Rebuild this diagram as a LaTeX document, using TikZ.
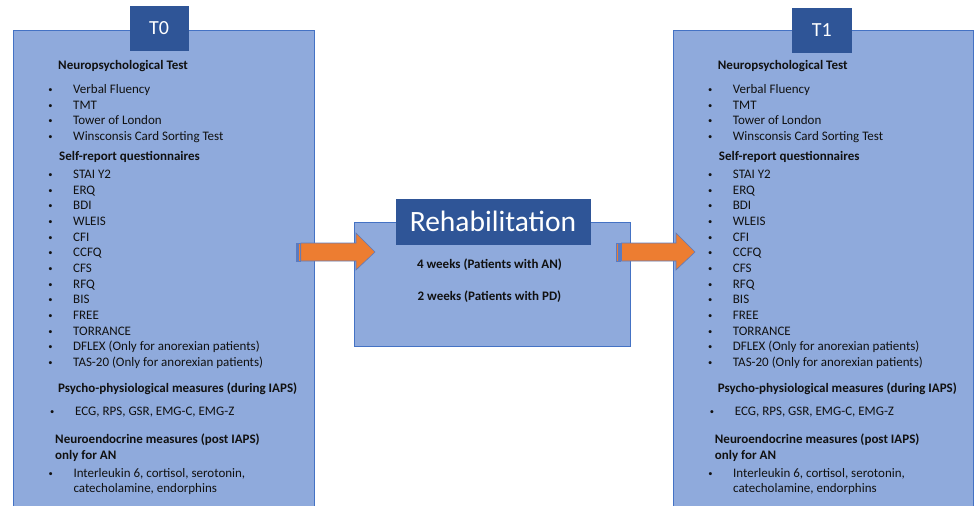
\documentclass[tikz,border=0pt]{standalone}
\usepackage{fontspec}
\setmainfont{Carlito}
\definecolor{boxfill}{HTML}{8FAADC}
\definecolor{boxline}{HTML}{4472C4}
\definecolor{labfill}{HTML}{2F5597}
\definecolor{arrfill}{HTML}{ED7D31}
\definecolor{arrline}{HTML}{5B7BC0}
\definecolor{txt}{HTML}{111111}
\newcommand\mycolumn[1]{%
  \node[head] (#1-h1) at (58,69.3) {Neuropsychological Test};
  \foreach \yy/\tt [count=\i] in {93.3/{Verbal Fluency},109/{TMT},124.6/{Tower of London},140.3/{Winsconsis Card Sorting Test}}{
    \node[bul] (#1-a\i) at (50.5,\yy-1) {•};
    \node[item] (#1-b\i) at (73,\yy) {\tt};
  }
  \node[head] (#1-h2) at (59,160) {Self-report questionnaires};
  \foreach \yy/\tt [count=\i] in {178.3/{STAI Y2},194/{ERQ},209.7/{BDI},225.3/{WLEIS},241/{CFI},256.7/{CCFQ},272.3/{CFS},288/{RFQ},303.7/{BIS},319.3/{FREE},335/{TORRANCE},350.6/{DFLEX (Only for anorexian patients)},366.2/{TAS-20 (Only for anorexian patients)}}{
    \node[bul] (#1-c\i) at (50.5,\yy-1) {•};
    \node[item] (#1-d\i) at (73,\yy) {\tt};
  }
  \node[head] (#1-h3) at (58,392.3) {Psycho-physiological measures (during IAPS)};
  \node[bul] (#1-e1) at (52.3,414) {•};
  \node[item] (#1-f1) at (75,415) {ECG, RPS, GSR, EMG-C, EMG-Z};
  \node[head] (#1-h4) at (55,443.3) {Neuroendocrine measures (post IAPS)};
  \node[head] (#1-h5) at (55,459.3) {only for AN};
  \node[bul] (#1-g1) at (50.7,476.3) {•};
  \node[item] (#1-g2) at (73.3,477.3) {Interleukin 6, cortisol, serotonin,};
  \node[item] (#1-g3) at (73.3,492.3) {catecholamine, endorphins};
}
\begin{document}
\begin{tikzpicture}[x=1pt,y=-1pt,
  box/.style={draw=boxline, fill=boxfill, line width=0.8pt, inner sep=0pt},
  lab/.style={fill=labfill, draw=labfill, text=white, inner sep=0pt},
  item/.style={anchor=base west, inner sep=0pt, text=txt, font=\fontsize{13}{15}\selectfont},
  head/.style={item, font=\fontsize{13}{15}\selectfont\bfseries},
  bul/.style={anchor=base, inner sep=0pt, text=txt, font=\fontsize{8.5}{10}\selectfont},
  arr/.style={fill=arrfill, draw=arrline, line width=0.6pt, line join=miter}]
\useasboundingbox (0,0) rectangle (975,506);
\clip (0,0) rectangle (975,506);
% boxes
\node[box, anchor=north west, minimum width=301pt, minimum height=490pt] (t0box) at (13,30) {};
\node[box, anchor=north west, minimum width=300.5pt, minimum height=490pt] (t1box) at (672.7,30) {};
\node[box, anchor=north west, minimum width=276pt, minimum height=124.3pt] (rbox) at (354,221.7) {};
% labels
\node[lab, minimum width=58pt, minimum height=44pt] (t0lab) at (159,28) {\fontsize{20}{24}\selectfont T0};
\node[lab, minimum width=58.3pt, minimum height=44pt] (t1lab) at (821.8,30) {\fontsize{20}{24}\selectfont T1};
\node[lab, minimum width=194pt, minimum height=45pt] (rlab) at (493,221.5) {\fontsize{29.5}{32}\selectfont Rehabilitation};
% middle text
\node[head, anchor=base] (w4) at (489.5,268.3) {4 weeks (Patients with AN)};
\node[head, anchor=base] (w2) at (489.5,300.7) {2 weeks (Patients with PD)};
% columns
\mycolumn{L}
\begin{scope}[xshift=659.7pt]
\mycolumn{R}
\end{scope}
% arrows
\coordinate (a1s) at (296,252);
\coordinate (a2s) at (616.7,252);
\foreach \s/\len in {a1s/79,a2s/78.3}{
  \begin{scope}[shift={(\s)}]
    \draw[arr] (0,-9) rectangle (1.7,9);
    \draw[arr] (2.3,-9) rectangle (4,9);
    \draw[arr] (4.8,-9) -- (\len-19,-9) -- (\len-19,-19) -- (\len,0) -- (\len-19,18) -- (\len-19,9) -- (4.8,9) -- cycle;
  \end{scope}
}
\end{tikzpicture}
\end{document}
